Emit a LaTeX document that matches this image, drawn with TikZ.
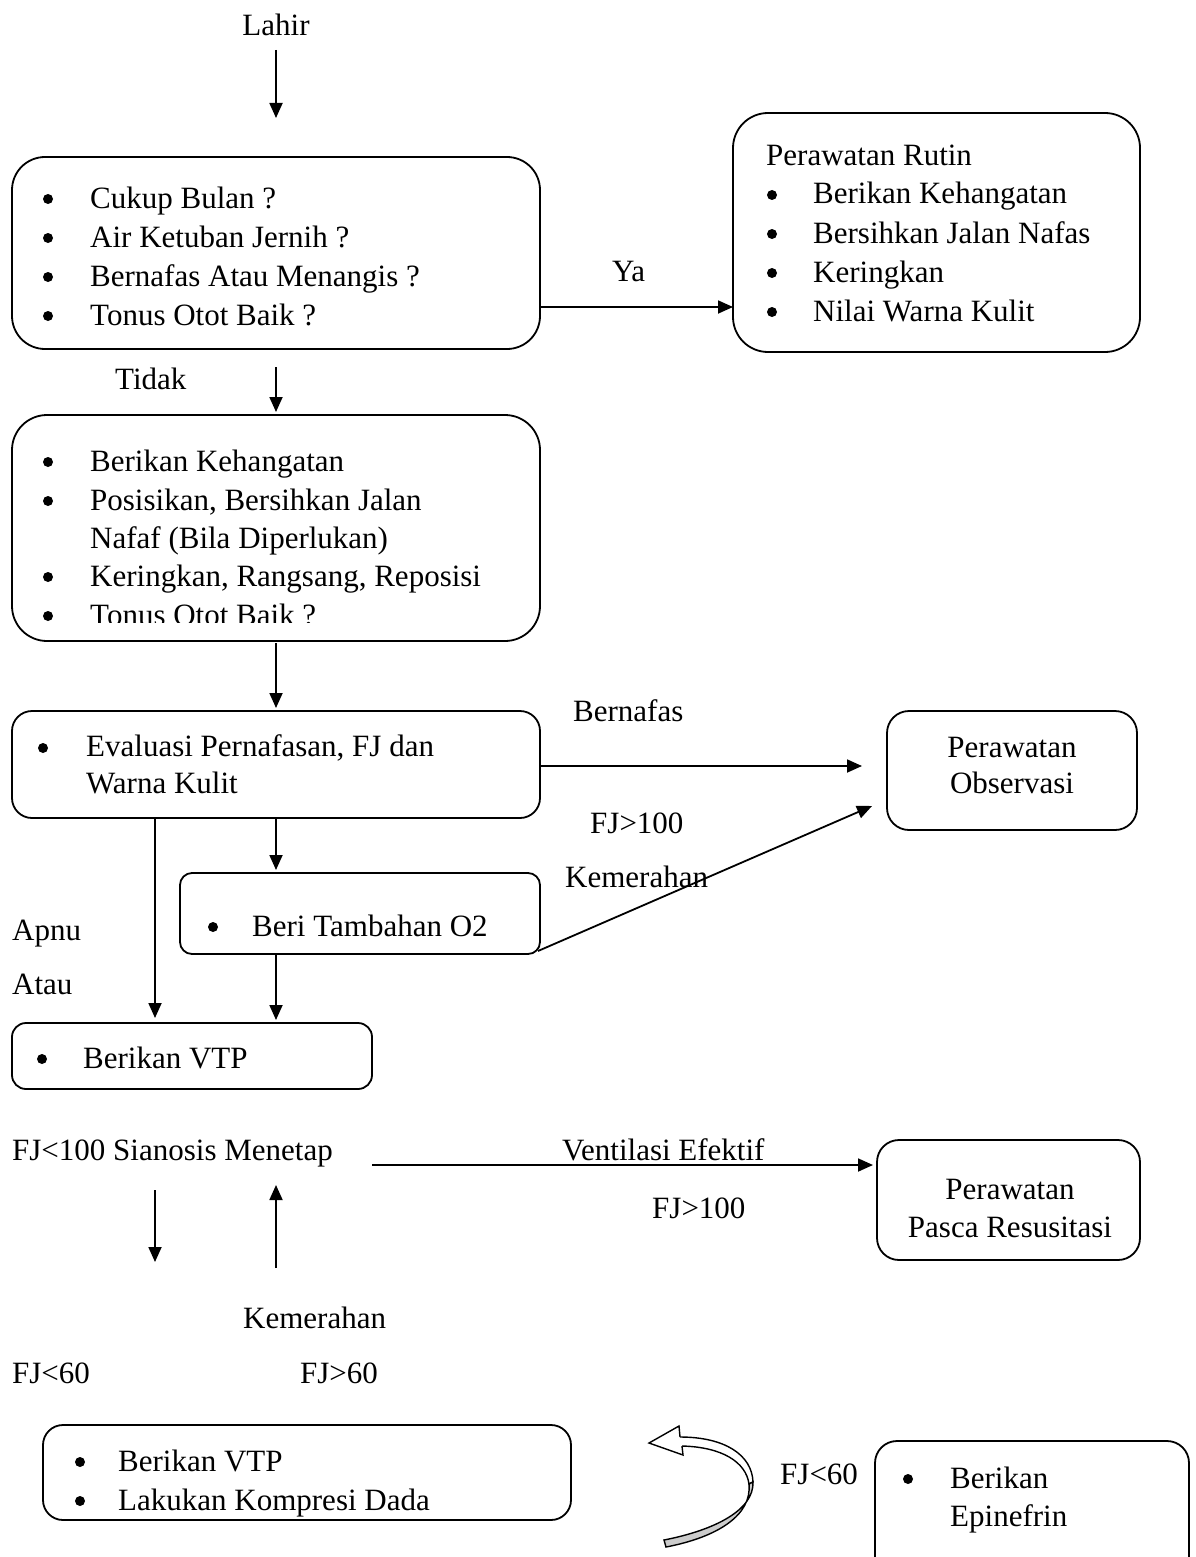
\documentclass[tikz,border=0pt]{standalone}
\usepackage{fontspec}
\setmainfont{Liberation Serif}
\usetikzlibrary{arrows.meta}
\begin{document}
\begin{tikzpicture}[x=1pt,y=-1pt,
  box/.style={draw, line width=1.8pt, rounded corners=#1, inner sep=0pt, outer sep=0pt},
  box/.default=30pt,
  txt/.style={anchor=base west, inner sep=0pt, font=\fontsize{31}{39}\selectfont},
  ctxt/.style={anchor=base, inner sep=0pt, font=\fontsize{31}{39}\selectfont},
  dot/.style={circle, fill, inner sep=0pt, minimum size=10pt},
  conn/.style={line width=1.8pt, -{Triangle[length=15pt,width=13pt]}}]
\useasboundingbox (0,0) rectangle (1195,1557);

% ---------- boxes ----------
\node[box=33pt, minimum width=528pt, minimum height=192pt] (b1) at (276,253) {};
\node[box=35pt, minimum width=407pt, minimum height=239pt] (b2) at (936.5,232.5) {};
\node[box=35pt, minimum width=528pt, minimum height=226pt] (b3) at (276,528) {};
\node[box=20pt, minimum width=528pt, minimum height=107pt] (b4) at (276,764.5) {};
\node[box=22pt, minimum width=250pt, minimum height=119pt] (b5) at (1012,770.5) {};
\node[box=12pt, minimum width=360pt, minimum height=81pt] (b6) at (360,913.5) {};
\node[box=14pt, minimum width=360pt, minimum height=66pt] (b7) at (192,1056) {};
\node[box=22pt, minimum width=263pt, minimum height=120pt] (b8) at (1008.5,1200) {};
\node[box=20pt, minimum width=528pt, minimum height=95pt] (b9) at (307,1472.5) {};
\node[box=22pt, minimum width=314pt, minimum height=144pt] (b10) at (1032,1513) {};

% ---------- texts ----------
\node[ctxt] (lahir) at (276,36) {Lahir};

\node[dot] (b1d1) at (48,199) {};
\node[txt] (b1l1) at (90,208) {Cukup Bulan ?};
\node[dot] (b1d2) at (48,238) {};
\node[txt] (b1l2) at (90,247) {Air Ketuban Jernih ?};
\node[dot] (b1d3) at (48,277) {};
\node[txt] (b1l3) at (90,286) {Bernafas Atau Menangis ?};
\node[dot] (b1d4) at (48,316) {};
\node[txt] (b1l4) at (90,325) {Tonus Otot Baik ?};

\node[txt] (ya) at (612,281) {Ya};

\node[txt] (b2h) at (766,166) {Perawatan Rutin};
\node[dot] (b2d1) at (772,195) {};
\node[txt] (b2l1) at (813,204) {Berikan Kehangatan};
\node[dot] (b2d2) at (772,234) {};
\node[txt] (b2l2) at (813,243) {Bersihkan Jalan Nafas};
\node[dot] (b2d3) at (772,273) {};
\node[txt] (b2l3) at (813,282) {Keringkan};
\node[dot] (b2d4) at (772,312) {};
\node[txt] (b2l4) at (813,321) {Nilai Warna Kulit};

\node[txt] (tidak) at (115,389) {Tidak};

\node[dot] (b3d1) at (48,462) {};
\node[txt] (b3l1) at (90,471) {Berikan Kehangatan};
\node[dot] (b3d2) at (48,501) {};
\node[txt] (b3l2) at (90,510) {Posisikan, Bersihkan Jalan};
\node[txt] (b3l3) at (90,548) {Nafaf (Bila Diperlukan)};
\node[dot] (b3d4) at (48,577) {};
\node[txt] (b3l4) at (90,586) {Keringkan, Rangsang, Reposisi};
\begin{scope}
\clip (12,415) rectangle (540,622);
\node[dot] (b3d5) at (48,616) {};
\node[txt] (b3l5) at (90,625) {Tonus Otot Baik ?};
\end{scope}

\node[dot] (b4d1) at (43,748) {};
\node[txt] (b4l1) at (86,756) {Evaluasi Pernafasan, FJ dan};
\node[txt] (b4l2) at (86,793) {Warna Kulit};

\node[txt] (bernafas) at (573,721) {Bernafas};
\node[ctxt] (b5l1) at (1012,757) {Perawatan};
\node[ctxt] (b5l2) at (1012,793) {Observasi};
\node[txt] (fj100a) at (590,833) {FJ>100};
\node[txt] (kem1) at (565,887) {Kemerahan};

\node[dot] (b6d1) at (213,927) {};
\node[txt] (b6l1) at (252,936) {Beri Tambahan O2};

\node[txt] (apnu) at (12,940) {Apnu};
\node[txt] (atau) at (12,994) {Atau};

\node[dot] (b7d1) at (42,1059) {};
\node[txt] (b7l1) at (83,1068) {Berikan VTP};

\node[txt] (sian) at (12,1160) {FJ<100 Sianosis Menetap};
\node[txt] (vent) at (562,1160) {Ventilasi Efektif};
\node[txt] (fj100b) at (652,1218) {FJ>100};
\node[ctxt] (b8l1) at (1010,1199) {Perawatan};
\node[ctxt] (b8l2) at (1010,1237) {Pasca Resusitasi};

\node[txt] (kem2) at (243,1328) {Kemerahan};
\node[txt] (fj60a) at (12,1383) {FJ<60};
\node[txt] (fj60b) at (300,1383) {FJ>60};

\node[dot] (b9d1) at (80,1462) {};
\node[txt] (b9l1) at (118,1471) {Berikan VTP};
\node[dot] (b9d2) at (80,1501) {};
\node[txt] (b9l2) at (118,1510) {Lakukan Kompresi Dada};

\node[txt] (fj60c) at (780,1484) {FJ<60};
\node[dot] (b10d1) at (908,1479) {};
\node[txt] (b10l1) at (950,1488) {Berikan};
\node[txt] (b10l2) at (950,1526) {Epinefrin};

% ---------- connectors ----------
\coordinate (c0s) at (276,50);
\coordinate (c0e) at (276,118);
\coordinate (c1s) at (276,367);
\coordinate (c5e) at (862,766);
\coordinate (c6e) at (872,806);
\coordinate (c7s) at (372,1165);
\coordinate (c8s) at (155,1190);
\coordinate (c8e) at (155,1262);
\coordinate (c9s) at (276,1268);
\coordinate (c9e) at (276,1185);

\draw[conn] (c0s) -- (c0e);
\draw[conn] (b1.east |- 0,307) -- (b2.west |- 0,307);
\draw[conn] (c1s) -- ([yshift=3pt]b3.north);
\draw[conn] ([yshift=-2pt]b3.south) -- ([yshift=3pt]b4.north);
\draw[conn] (b4.east |- c5e) -- (c5e);
\draw[conn] (b4.south -| 155,0) -- ([yshift=5pt]b7.north -| 155,0);
\draw[conn] (b4.south) -- ([yshift=3pt]b6.north -| 276,0);
\draw[conn] ([shift={(-2pt,3pt)}]b6.south east) -- (c6e);
\draw[conn] (b6.south -| 276,0) -- ([yshift=3pt]b7.north -| 276,0);
\draw[conn] (c7s) -- ([xshift=-4pt]b8.west |- c7s);
\draw[conn] (c8s) -- (c8e);
\draw[conn] (c9s) -- (c9e);

% ---------- curved block arrow ----------
\fill[white] (649,1443) -- (679,1426) -- (680,1437) -- (682,1446) -- (683,1455) -- cycle;
\draw[line width=1.4pt, line join=miter] (680,1437) -- (679,1426) -- (649,1443) -- (683,1455) -- (682,1446);
\draw[line width=1.4pt, fill=white] (680,1437) .. controls (725,1437) and (752,1455) .. (753,1482)
  -- (749,1484) .. controls (746,1462) and (722,1447) .. (682,1446);
\filldraw[line width=1.4pt, fill=gray!40] (753,1482) .. controls (754,1510) and (715,1530) .. (664,1540)
  -- (666,1547) .. controls (718,1537) and (752,1515) .. (749,1484) -- cycle;
\end{tikzpicture}
\end{document}
